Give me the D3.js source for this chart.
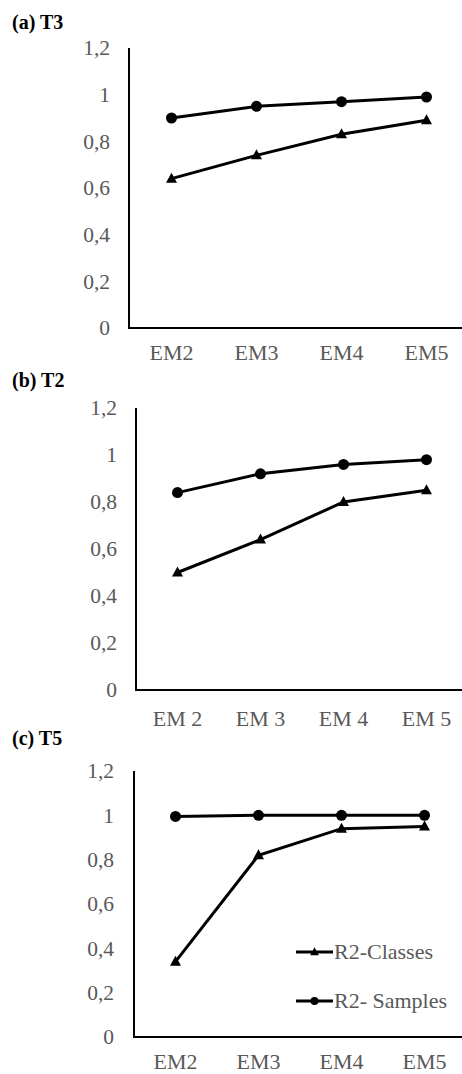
<!DOCTYPE html>
<html><head><meta charset="utf-8">
<script src="https://cdn.jsdelivr.net/npm/d3@7"></script>
<style>body{margin:0;background:#fff}svg{display:block}
svg text{font-family:"Liberation Serif","Times New Roman",Times,serif;}
</style>
</head><body>
<script>
// Data
const catsA = ["EM2","EM3","EM4","EM5"];
const catsB = ["EM 2","EM 3","EM 4","EM 5"];
const catsC = ["EM2","EM3","EM4","EM5"];
const yTicks = [0,0.2,0.4,0.6,0.8,1,1.2];
const yTickLabels = ["0","0,2","0,4","0,6","0,8","1","1,2"];
const samplesA = [0.90,0.95,0.97,0.99];
const classesA = [0.64,0.74,0.83,0.89];
const samplesB = [0.84,0.92,0.96,0.98];
const classesB = [0.50,0.64,0.80,0.85];
const samplesC = [0.995,1.0,1.0,1.0];
const classesC = [0.34,0.82,0.94,0.95];
const seriesNames = ["R2-Classes","R2- Samples"];

const W = 462, H = 1074;
const svg = d3.select("body").append("svg").attr("width",W).attr("height",H);
const serif = '"Liberation Serif","Times New Roman",Times,serif';
const gray = "#595959";

const panels = [
  {title:"(a) T3", titleY:29, cats:catsA, s:samplesA, c:classesA, x0:129, x1:469, yTop:48, yBot:328, labX:110, xlabY:352},
  {title:"(b) T2", titleY:387, cats:catsB, s:samplesB, c:classesB, x0:136, x1:468, yTop:408, yBot:690, labX:117, xlabY:718},
  {title:"(c) T5", titleY:745, cats:catsC, s:samplesC, c:classesC, x0:134, x1:466, yTop:771, yBot:1037, labX:114, xlabY:1061, legend:true}
];

function triPath(cx,cy,sz){
  return `M${cx},${cy-sz*0.6}L${cx+sz*0.55},${cy+sz*0.4}L${cx-sz*0.55},${cy+sz*0.4}Z`;
}

panels.forEach(p=>{
  const g = svg.append("g");
  g.append("text").attr("x",12).attr("y",p.titleY).text(p.title)
    .style("font-family",serif).style("font-weight","bold").style("font-size","20px").attr("fill","#000");
  const x = d3.scaleBand().domain(p.cats).range([p.x0,p.x1]);
  const y = d3.scaleLinear().domain([0,1.2]).range([p.yBot,p.yTop]);

  const yAxis = d3.axisLeft(y).tickValues(yTicks).tickSize(0).tickPadding(0)
    .tickFormat((d,i)=>yTickLabels[i]);
  const ya = g.append("g").attr("transform",`translate(${p.x0},0)`).call(yAxis)
    .attr("font-family",null).attr("font-size",null);
  ya.select(".domain").remove();
  ya.selectAll("text").attr("x",p.labX-p.x0).attr("dy","0.32em")
    .style("font-family",serif).style("font-size","21.5px").attr("fill",gray);

  const xAxis = d3.axisBottom(x).tickSize(0).tickPadding(0);
  const xa = g.append("g").attr("transform",`translate(0,${p.yBot})`).call(xAxis)
    .attr("font-family",null).attr("font-size",null);
  xa.select(".domain").remove();
  xa.selectAll("text").attr("y",p.xlabY-p.yBot).attr("dy","0.35em")
    .style("font-family",serif).style("font-size","22px").attr("fill",gray);

  // axis lines
  g.append("line").attr("x1",p.x0).attr("x2",p.x0).attr("y1",y(1.2)).attr("y2",y(0)).attr("stroke","#000").attr("stroke-width",2);
  g.append("line").attr("x1",p.x0-1).attr("x2",W).attr("y1",y(0)).attr("y2",y(0)).attr("stroke","#000").attr("stroke-width",2);

  const cx = (d,i)=>x(p.cats[i])+x.bandwidth()/2;
  const line = d3.line().x(cx).y(d=>y(d));
  g.append("path").datum(p.s).attr("d",line).attr("fill","none").attr("stroke","#000").attr("stroke-width",3);
  g.append("path").datum(p.c).attr("d",line).attr("fill","none").attr("stroke","#000").attr("stroke-width",3);
  g.selectAll(".circ").data(p.s).enter().append("circle")
    .attr("cx",cx).attr("cy",d=>y(d)).attr("r",5.5).attr("fill","#000");
  g.selectAll(".tri").data(p.c).enter().append("path")
    .attr("d",(d,i)=>triPath(cx(d,i),y(d),10)).attr("fill","#000");

  if(p.legend){
    const items = [{name:seriesNames[0],type:"tri",y:952},{name:seriesNames[1],type:"circ",y:1001}];
    items.forEach(it=>{
      g.append("line").attr("x1",296).attr("x2",333).attr("y1",it.y).attr("y2",it.y).attr("stroke","#000").attr("stroke-width",3);
      if(it.type==="tri") g.append("path").attr("d",triPath(314.5,it.y,8)).attr("fill","#000");
      else g.append("circle").attr("cx",314.5).attr("cy",it.y).attr("r",4).attr("fill","#000");
      g.append("text").attr("x",334).attr("y",it.y).attr("dy","0.33em").text(it.name)
        .style("font-family",serif).style("font-size","22px").attr("fill",gray);
    });
  }
});
</script>
</body></html>
